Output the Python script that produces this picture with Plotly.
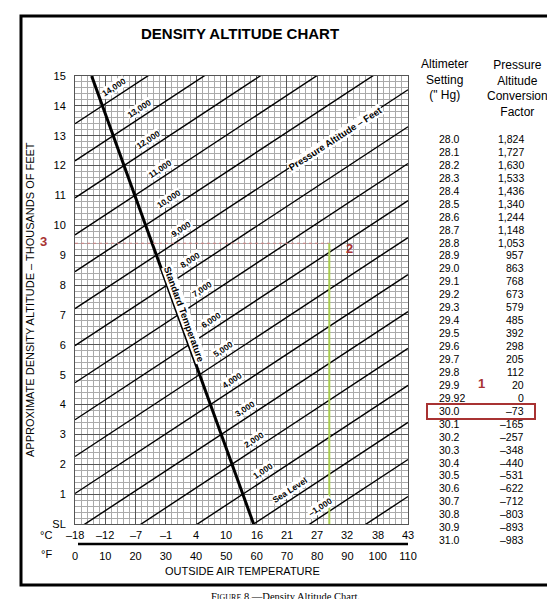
import plotly.graph_objects as go

# ---- data ----
pa_lines = [-2, -1, 0, 1, 2, 3, 4, 5, 6, 7, 8, 9, 10, 11, 12, 13, 14]       # thousands ft
pa_labels = ["", "\u20131,000", "Sea Level", "1,000", "2,000", "3,000", "4,000", "5,000",
             "6,000", "7,000", "8,000", "9,000", "10,000", "11,000", "12,000", "13,000", "14,000"]
da_at_0F = [-6.41, -5.17, -3.94, -2.70, -1.46, -0.22, 1.02, 2.26, 3.49, 4.73, 5.97, 7.21,
            8.45, 9.68, 10.92, 12.16, 13.40]
da_at_110F = [0.92, 2.16, 3.40, 4.64, 5.88, 7.11, 8.35, 9.59, 10.83, 12.07, 13.30, 14.54,
              15.78, 17.02, 18.26, 19.49, 20.73]
label_temp_F = [None, 81, 71, 62, 59, 56, 52, 49, 45, 42, 38, 35, 31, 28, 24, 21, 13]
std_temp_F = [59, 5.5]
std_da = [0, 15]
f_ticks = [0, 10, 20, 30, 40, 50, 60, 70, 80, 90, 100, 110]
c_labels = ["\u201318", "\u201312", "\u20137", "\u20131", "4", "10", "16", "21", "27", "32", "38", "43"]
y_ticks = list(range(0, 16))
y_labels = ["SL"] + [str(i) for i in range(1, 16)]
alt_setting = ["28.0", "28.1", "28.2", "28.3", "28.4", "28.5", "28.6", "28.7", "28.8", "28.9",
               "29.0", "29.1", "29.2", "29.3", "29.4", "29.5", "29.6", "29.7", "29.8", "29.9",
               "29.92", "30.0", "30.1", "30.2", "30.3", "30.4", "30.5", "30.6", "30.7", "30.8",
               "30.9", "31.0"]
conv_factor = ["1,824", "1,727", "1,630", "1,533", "1,436", "1,340", "1,244", "1,148", "1,053",
               "957", "863", "768", "673", "579", "485", "392", "298", "205", "112", "20", "0",
               "\u201373", "\u2013165", "\u2013257", "\u2013348", "\u2013440", "\u2013531", "\u2013622",
               "\u2013712", "\u2013803", "\u2013893", "\u2013983"]
example_oat_F = 84
example_da = 9.4

# ---- geometry (pixels) ----
W, H = 555, 599
L, R, T, B = 67, 400, 68, 516
def px(xp): return (xp - L) / (R - L)
def py(yp): return (B - yp) / (B - T)

fig = go.Figure()
for p, a, b in zip(pa_lines, da_at_0F, da_at_110F):
    fig.add_trace(go.Scatter(x=[0, 110], y=[a, b], mode="lines",
                             line=dict(color="black", width=1.4), hoverinfo="skip", showlegend=False))
fig.add_trace(go.Scatter(x=std_temp_F, y=std_da, mode="lines",
                         line=dict(color="black", width=3), showlegend=False))
fig.add_trace(go.Scatter(x=[0, example_oat_F], y=[example_da, example_da], mode="lines",
                         line=dict(color="#d08080", width=1, dash="dot"), showlegend=False))
fig.add_trace(go.Scatter(x=[example_oat_F, example_oat_F], y=[-0.6, example_da], mode="lines",
                         line=dict(color="#a8cc50", width=2), showlegend=False, cliponaxis=False))

ann = []
def A(**kw):
    kw.setdefault("showarrow", False)
    kw.setdefault("xanchor", "center")
    kw.setdefault("yanchor", "middle")
    ann.append(kw)

for p, lab, tf, a, b in zip(pa_lines, pa_labels, label_temp_F, da_at_0F, da_at_110F):
    if not lab:
        continue
    yv = a + (b - a) * tf / 110 + 0.35
    A(x=tf, y=yv, text=f"<b>{lab}</b>", textangle=-33,
      font=dict(size=8.5, color="black", family="Liberation Sans"), bgcolor="white", borderpad=0)
A(x=86, y=12.9, text="<b>Pressure Altitude \u2013 Feet</b>", textangle=-33,
  font=dict(size=9.5, color="black"), bgcolor="white", borderpad=0)
A(x=36, y=7.0, text="<b>Standard Temperature</b>", textangle=70,
  font=dict(size=9.5, color="black"), bgcolor="white", borderpad=0)
for f, c in zip(f_ticks, c_labels):
    A(x=f, y=py(527), yref="paper", text=c, font=dict(size=11, color="black"))
A(x=px(38), y=py(527), xref="paper", yref="paper", text="\u00b0C", font=dict(size=11, color="black"))
A(x=px(38), y=py(546), xref="paper", yref="paper", text="\u00b0F", font=dict(size=11, color="black"))
A(x=px(235), y=py(563), xref="paper", yref="paper", text="OUTSIDE AIR TEMPERATURE",
  font=dict(size=11, color="black"))
A(x=px(22), y=py(292), xref="paper", yref="paper",
  text="APPROXIMATE DENSITY ALTITUDE \u2013 THOUSANDS OF FEET", textangle=-90,
  font=dict(size=11, color="black"))
A(x=px(232), y=py(25), xref="paper", yref="paper", text="<b>DENSITY ALTITUDE CHART</b>",
  font=dict(size=15, color="black"))
A(x=px(436), y=py(72), xref="paper", yref="paper", text="Altimeter<br>Setting<br>(\" Hg)",
  font=dict(size=12, color="black"), align="center")
A(x=px(509), y=py(80), xref="paper", yref="paper",
  text="Pressure<br>Altitude<br>Conversion<br>Factor", font=dict(size=12, color="black"), align="center")
for i, (s, c) in enumerate(zip(alt_setting, conv_factor)):
    yy = 131 + i * 12.94
    A(x=px(429), y=py(yy), xref="paper", yref="paper", text=s, xanchor="left",
      font=dict(size=10.5, color="black"))
    A(x=px(518), y=py(yy), xref="paper", yref="paper", text=c, xanchor="right",
      font=dict(size=10.5, color="black"))
red = "#a83232"
for txt, xx, yy in [("1", 473, 375), ("2", 341, 240), ("3", 35, 233)]:
    A(x=px(xx), y=py(yy), xref="paper", yref="paper", text=f"<b>{txt}</b>",
      font=dict(size=13, color=red))
A(x=0.5 * (px(0) + px(W)), y=py(588), xref="paper", yref="paper",
  text="F<span style='font-size:8px'>IGURE</span> 8.\u2014Density Altitude Chart.",
  font=dict(size=10.5, color="black", family="Liberation Serif"))

shapes = [
    dict(type="rect", xref="paper", yref="paper", x0=px(13), x1=px(544), y0=py(8), y1=py(577),
         line=dict(color="black", width=3)),
    dict(type="line", xref="paper", yref="paper", x0=px(70), x1=px(400), y0=py(536), y1=py(536),
         line=dict(color="black", width=2.5)),
    dict(type="rect", xref="paper", yref="paper", x0=px(419), x1=px(527), y0=py(396), y1=py(411),
         line=dict(color=red, width=2)),
]

fig.update_layout(
    width=W, height=H, margin=dict(l=L, r=W - R, t=T, b=H - B),
    paper_bgcolor="white", plot_bgcolor="white", showlegend=False,
    annotations=ann, shapes=shapes,
    font=dict(family="Liberation Sans", color="black"),
    xaxis=dict(range=[0, 110], tickvals=f_ticks, ticktext=[str(v) for v in f_ticks],
               showgrid=True, gridcolor="#555", gridwidth=1,
               minor=dict(dtick=2, showgrid=True, gridcolor="#aaa", gridwidth=0.5),
               ticks="", ticklabelstandoff=22, tickfont=dict(size=11), zeroline=False,
               showline=True, linecolor="#555", mirror=True, fixedrange=True),
    yaxis=dict(range=[0, 15], tickvals=y_ticks, ticktext=y_labels, showgrid=True,
               gridcolor="#555", gridwidth=1,
               minor=dict(dtick=0.2, showgrid=True, gridcolor="#aaa", gridwidth=0.5),
               ticks="", ticklabelstandoff=6, tickfont=dict(size=11), zeroline=False,
               showline=True, linecolor="#555", mirror=True, fixedrange=True),
)
fig.write_html("out.html")
